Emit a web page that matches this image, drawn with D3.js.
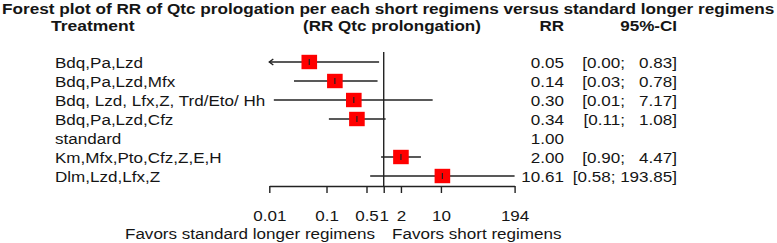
<!DOCTYPE html>
<html>
<head>
<meta charset="utf-8">
<script src="https://cdn.jsdelivr.net/npm/d3@7"></script>
<style>
  body { margin: 0; background: #fff; }
  text { font-family: "Liberation Sans", Arial, sans-serif; fill: #151515; }
</style>
</head>
<body>
<div id="chart"></div>
<script>
var width = 777, height = 243;

// Data
var studies = ["Bdq,Pa,Lzd", "Bdq,Pa,Lzd,Mfx", "Bdq, Lzd, Lfx,Z, Trd/Eto/ Hh", "Bdq,Pa,Lzd,Cfz",
               "standard", "Km,Mfx,Pto,Cfz,Z,E,H", "Dlm,Lzd,Lfx,Z"];
var rr    = [0.05, 0.14, 0.30, 0.34, 1.00, 2.00, 10.61];
var lower = [0.004, 0.027, 0.012, 0.11, null, 0.90, 0.58];
var upper = [0.83, 0.78, 7.17, 1.08, null, 4.47, 193.85];
var tickValues = [0.01, 0.1, 0.5, 1, 2, 10, 194];
var tickLabels = ["0.01", "0.1", "0.5", "1", "2", "10", "194"];

var fs = 15.5, sx = 1.1; // picture text is a bit stretched sideways

var x = d3.scaleLog().domain([0.01, 194]).range([269.3, 514.6]);
var y = d3.scalePoint().domain(d3.range(studies.length)).range([62, 176]);

var svg = d3.select("#chart").append("svg")
    .attr("width", width).attr("height", height);

function txt(px, py, s, anchor, bold, stretch) {
  return svg.append("text")
    .attr("transform", "translate(" + px + "," + py + ") scale(" + (stretch || sx) + ",1)")
    .attr("dy", "0.36em")
    .attr("text-anchor", anchor || "start")
    .style("font-size", fs + "px")
    .style("font-weight", bold ? "bold" : "normal")
    .style("white-space", "pre")
    .text(s);
}

// titles and headers
txt(2, 8.5, "Forest plot of RR of Qtc prologation per each short regimens versus standard longer regimens", "start", true, 1.108);
txt(51, 25.5, "Treatment", "start", true, 1.13);
txt(392, 25.5, "(RR Qtc prolongation)", "middle", true);
txt(564, 25.5, "RR", "end", true);
txt(677, 25.5, "95%-CI", "end", true);

// reference line at 1
svg.append("line")
  .attr("x1", x(1)).attr("x2", x(1))
  .attr("y1", 52).attr("y2", 186)
  .attr("stroke", "#222").attr("stroke-width", 1.4);

var rows = svg.append("g").selectAll("g")
  .data(studies.map(function(s, i) { return {name: s, i: i, rr: rr[i], lo: lower[i], hi: upper[i]}; }))
  .enter().append("g");

var dom = x.domain();
rows.filter(function(d) { return d.lo != null; }).each(function(d) {
  var g = d3.select(this);
  var cy = y(d.i);
  var lo = Math.max(d.lo, dom[0]), hi = Math.min(d.hi, dom[1]);
  g.append("line")
    .attr("x1", x(lo)).attr("x2", x(hi))
    .attr("y1", cy).attr("y2", cy)
    .attr("stroke", "#222").attr("stroke-width", 1.4);
  if (d.lo < dom[0]) {
    // arrow for a bound out of range
    g.append("path")
      .attr("d", "M" + (x(lo) + 4) + "," + (cy - 3) + "L" + x(lo) + "," + cy + "L" + (x(lo) + 4) + "," + (cy + 3))
      .attr("fill", "none").attr("stroke", "#222").attr("stroke-width", 1.4);
  }
  g.append("rect")
    .attr("x", x(d.rr) - 7.8).attr("y", cy - 7.2)
    .attr("width", 15.6).attr("height", 14.4)
    .attr("fill", "#ff0000");
  g.append("line")
    .attr("x1", x(d.rr)).attr("x2", x(d.rr))
    .attr("y1", cy - 3).attr("y2", cy + 3)
    .attr("stroke", "#222").attr("stroke-width", 1.2);
});

// text columns
var f2 = d3.format(".2f");
studies.forEach(function(s, i) {
  txt(55, y(i), s, "start");
  txt(564, y(i), f2(rr[i]), "end");
  if (lower[i] != null) {
    var up = f2(upper[i]);
    var pad = "      ".slice(up.length);
    txt(677, y(i), "[" + f2(lower[i]) + "; " + pad + up + "]", "end");
  }
});

// axis
var axis = svg.append("g")
  .attr("transform", "translate(0,186)")
  .call(d3.axisBottom(x).tickValues(tickValues).tickSize(7).tickSizeOuter(0)
    .tickFormat(function(d, i) { return tickLabels[i]; }));
axis.select(".domain").attr("stroke", "#222").attr("stroke-width", 1.4);
axis.selectAll(".tick line").attr("stroke", "#222").attr("stroke-width", 1.4);
axis.selectAll(".tick text")
  .attr("y", 29).attr("dy", "0.36em")
  .attr("transform", "scale(" + sx + ",1)")
  .style("font-size", fs + "px").style("font-family", null).attr("fill", "#151515");

txt(375, 233, "Favors standard longer regimens", "end");
txt(392, 233, "Favors short regimens", "start");
</script>
</body>
</html>
